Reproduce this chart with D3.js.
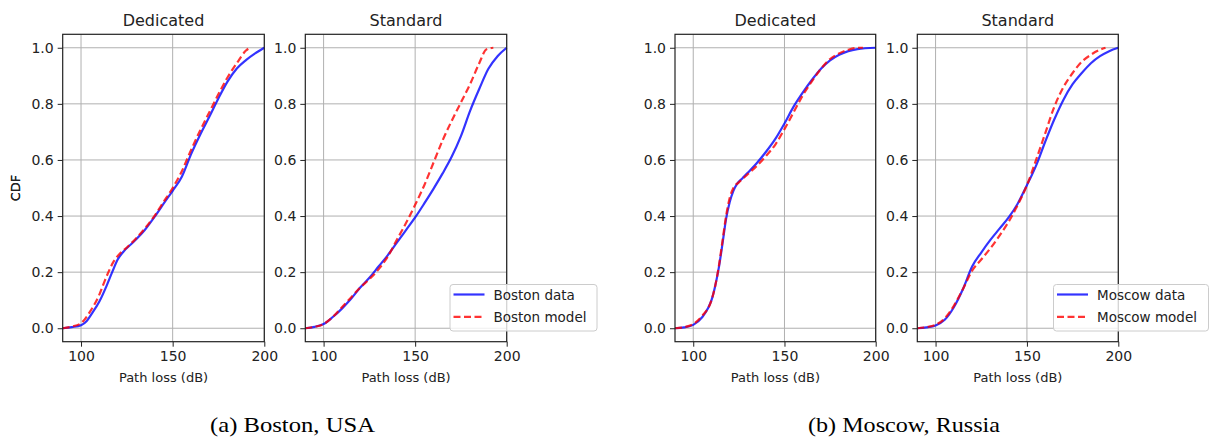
<!DOCTYPE html>
<html>
<head>
<meta charset="utf-8">
<script src="https://cdn.jsdelivr.net/npm/d3@7"></script>
<style>
  body { margin: 0; background: #fff; }
  svg { display: block; }
  .tick text { font-family: "DejaVu Sans", sans-serif; font-size: 14px; fill: #222; }
  .lbl { font-family: "DejaVu Sans", sans-serif; font-size: 13px; fill: #222; }
  .ttl { font-family: "DejaVu Sans", sans-serif; font-size: 16px; fill: #222; }
  .cap { font-family: "Liberation Serif", "Times New Roman", serif; font-size: 22px; fill: #000; }
  .leg { font-family: "DejaVu Sans", sans-serif; font-size: 13.5px; fill: #222; }
</style>
</head>
<body>
<svg width="1211" height="437"></svg>
<script>
var svg = d3.select('svg');

var xTicks = [100, 150, 200];
var yTicks = [0.0, 0.2, 0.4, 0.6, 0.8, 1.0];

// Boston, dedicated
var bosDedDataX = [90, 95, 100, 103, 106, 110, 114, 117, 120, 123, 129, 135, 140, 146, 150, 155, 160, 165, 170, 175, 180, 185, 190, 195, 200];
var bosDedDataY = [0, 0.004, 0.011, 0.025, 0.053, 0.095, 0.152, 0.2, 0.245, 0.272, 0.31, 0.352, 0.396, 0.453, 0.49, 0.54, 0.62, 0.69, 0.754, 0.82, 0.88, 0.926, 0.956, 0.98, 1.0];
var bosDedModelX = [90, 95, 100, 105, 110, 113, 118, 121, 125, 130, 135, 140, 145, 150, 155, 160, 165, 170, 175, 180, 185, 190, 192];
var bosDedModelY = [0, 0.006, 0.018, 0.06, 0.12, 0.17, 0.24, 0.265, 0.288, 0.32, 0.357, 0.4, 0.45, 0.50, 0.56, 0.635, 0.705, 0.77, 0.835, 0.895, 0.945, 0.99, 1.0];

// Boston, standard
var bosStdDataX = [90, 95, 100, 105, 110, 115, 120, 125, 130, 135, 140, 145, 150, 155, 160, 165, 170, 175, 180, 185, 190, 195, 200];
var bosStdDataY = [0, 0.005, 0.015, 0.04, 0.07, 0.105, 0.145, 0.18, 0.22, 0.26, 0.305, 0.35, 0.395, 0.445, 0.497, 0.552, 0.612, 0.685, 0.775, 0.853, 0.925, 0.97, 1.0];
var bosStdModelX = [90, 95, 100, 105, 110, 115, 120, 125, 130, 135, 140, 145, 150, 155, 160, 165, 170, 175, 180, 185, 189, 192.7];
var bosStdModelY = [0, 0.005, 0.015, 0.04, 0.075, 0.11, 0.145, 0.175, 0.21, 0.255, 0.315, 0.375, 0.44, 0.51, 0.59, 0.67, 0.74, 0.805, 0.87, 0.945, 0.995, 1.0];

// Moscow, dedicated
var mosDedDataX = [90, 95, 100, 105, 108, 110, 112, 114, 116, 118, 120, 122, 124, 127, 130, 135, 140, 145, 150, 155, 160, 165, 170, 175, 180, 185, 190, 200];
var mosDedDataY = [0, 0.003, 0.012, 0.04, 0.07, 0.1, 0.15, 0.215, 0.3, 0.39, 0.45, 0.49, 0.515, 0.535, 0.555, 0.59, 0.63, 0.675, 0.73, 0.79, 0.84, 0.885, 0.925, 0.955, 0.975, 0.988, 0.995, 1.0];
var mosDedModelX = [90, 95, 100, 105, 110, 112, 114, 116, 118, 120, 122, 125, 130, 135, 140, 145, 150, 155, 160, 165, 170, 175, 180, 185, 190, 193];
var mosDedModelY = [0, 0.004, 0.015, 0.045, 0.1, 0.15, 0.22, 0.31, 0.4, 0.465, 0.5, 0.52, 0.55, 0.58, 0.615, 0.655, 0.71, 0.77, 0.83, 0.88, 0.925, 0.96, 0.98, 0.993, 1.0, 1.0];

// Moscow, standard
var mosStdDataX = [90, 95, 100, 105, 110, 115, 120, 125, 130, 135, 140, 145, 150, 155, 160, 165, 170, 175, 180, 185, 190, 195, 200];
var mosStdDataY = [0, 0.003, 0.01, 0.03, 0.075, 0.14, 0.22, 0.27, 0.315, 0.355, 0.395, 0.445, 0.51, 0.58, 0.665, 0.745, 0.815, 0.87, 0.91, 0.945, 0.97, 0.988, 1.0];
var mosStdModelX = [90, 95, 100, 105, 110, 115, 120, 125, 130, 135, 140, 145, 150, 155, 160, 165, 170, 175, 180, 185, 190, 193];
var mosStdModelY = [0, 0.004, 0.012, 0.035, 0.08, 0.14, 0.205, 0.245, 0.285, 0.33, 0.38, 0.44, 0.51, 0.60, 0.695, 0.79, 0.86, 0.91, 0.95, 0.975, 0.993, 1.0];

function zip(xs, ys) {
  return xs.map(function(x, i) { return [x, ys[i]]; });
}

var panels = [
  { left: 62.7, right: 264.3, title: 'Dedicated', cdfLabel: true, data: zip(bosDedDataX, bosDedDataY), model: zip(bosDedModelX, bosDedModelY) },
  { left: 305.3, right: 506.7, title: 'Standard', cdfLabel: false, data: zip(bosStdDataX, bosStdDataY), model: zip(bosStdModelX, bosStdModelY),
    legend: { x: 450, y: 284.5, w: 147, names: ['Boston data', 'Boston model'] } },
  { left: 675, right: 875.7, title: 'Dedicated', cdfLabel: true, data: zip(mosDedDataX, mosDedDataY), model: zip(mosDedModelX, mosDedModelY) },
  { left: 917.3, right: 1118.3, title: 'Standard', cdfLabel: false, data: zip(mosStdDataX, mosStdDataY), model: zip(mosStdModelX, mosStdModelY),
    legend: { x: 1053.5, y: 284.5, w: 155, names: ['Moscow data', 'Moscow model'] } }
];

var plotTop = 34.3, plotBottom = 341.7;

panels.forEach(function(p, idx) {
  var x = d3.scaleLinear().domain([90, 200]).range([p.left, p.right]);
  var y = d3.scaleLinear().domain([-0.048, 1.048]).range([plotBottom, plotTop]);
  var g = svg.append('g');

  // grid
  g.selectAll('.gx').data(xTicks).enter().append('line')
    .attr('x1', function(d) { return x(d); }).attr('x2', function(d) { return x(d); })
    .attr('y1', plotTop).attr('y2', plotBottom)
    .attr('stroke', '#b0b0b0').attr('stroke-width', 1);
  g.selectAll('.gy').data(yTicks).enter().append('line')
    .attr('y1', function(d) { return y(d); }).attr('y2', function(d) { return y(d); })
    .attr('x1', p.left).attr('x2', p.right)
    .attr('stroke', '#b0b0b0').attr('stroke-width', 1);

  var line = d3.line()
    .x(function(d) { return x(d[0]); })
    .y(function(d) { return y(d[1]); })
    .curve(d3.curveMonotoneX);

  g.append('path').datum(p.data).attr('d', line)
    .attr('fill', 'none').attr('stroke', '#0000ff').attr('stroke-opacity', 0.8).attr('stroke-width', 2.2);
  g.append('path').datum(p.model).attr('d', line)
    .attr('fill', 'none').attr('stroke', '#ff0000').attr('stroke-opacity', 0.8).attr('stroke-width', 2.2)
    .attr('stroke-dasharray', '7,3.5');

  // frame
  g.append('rect').attr('x', p.left).attr('y', plotTop)
    .attr('width', p.right - p.left).attr('height', plotBottom - plotTop)
    .attr('fill', 'none').attr('stroke', '#222').attr('stroke-width', 1.2);

  var xAxis = g.append('g').attr('transform', 'translate(0,' + plotBottom + ')')
    .call(d3.axisBottom(x).tickValues(xTicks).tickSize(5).tickPadding(4).tickFormat(d3.format('d')));
  var yAxis = g.append('g').attr('transform', 'translate(' + p.left + ',0)')
    .call(d3.axisLeft(y).tickValues(yTicks).tickSize(5).tickPadding(4).tickFormat(d3.format('.1f')));
  [xAxis, yAxis].forEach(function(a) {
    a.select('.domain').remove();
    a.selectAll('.tick line').attr('stroke', '#222').attr('stroke-width', 1);
  });

  g.append('text').attr('class', 'ttl')
    .attr('x', (p.left + p.right) / 2).attr('y', 26)
    .attr('text-anchor', 'middle').text(p.title);
  g.append('text').attr('class', 'lbl')
    .attr('x', (p.left + p.right) / 2).attr('y', 382)
    .attr('text-anchor', 'middle').text('Path loss (dB)');
  if (p.cdfLabel) {
    g.append('text').attr('class', 'lbl')
      .attr('transform', 'translate(20,' + (plotTop + plotBottom) / 2 + ') rotate(-90)')
      .attr('text-anchor', 'middle').text('CDF');
  }

  if (p.legend) {
    var L = p.legend;
    var lg = svg.append('g').attr('transform', 'translate(' + L.x + ',' + L.y + ')');
    lg.append('rect').attr('width', L.w).attr('height', 46.5).attr('rx', 3)
      .attr('fill', '#fff').attr('fill-opacity', 0.8).attr('stroke', '#cccccc');
    var styles = [
      { c: '#0000ff', dash: null },
      { c: '#ff0000', dash: '7,3.5' }
    ];
    L.names.forEach(function(n, i) {
      var yy = 10 + i * 22.4;
      lg.append('line').attr('x1', 3.5).attr('x2', 34.5).attr('y1', yy).attr('y2', yy)
        .attr('stroke', styles[i].c).attr('stroke-opacity', 0.8).attr('stroke-width', 2.2)
        .attr('stroke-dasharray', styles[i].dash);
      lg.append('text').attr('class', 'leg').attr('x', 43.5).attr('y', yy + 5).text(n);
    });
  }
});

svg.append('text').attr('class', 'cap').attr('x', 292.5).attr('y', 432)
  .attr('text-anchor', 'middle').attr('textLength', 165).attr('lengthAdjust', 'spacingAndGlyphs')
  .text('(a) Boston, USA');
svg.append('text').attr('class', 'cap').attr('x', 904).attr('y', 432)
  .attr('text-anchor', 'middle').attr('textLength', 192).attr('lengthAdjust', 'spacingAndGlyphs')
  .text('(b) Moscow, Russia');
</script>
</body>
</html>
